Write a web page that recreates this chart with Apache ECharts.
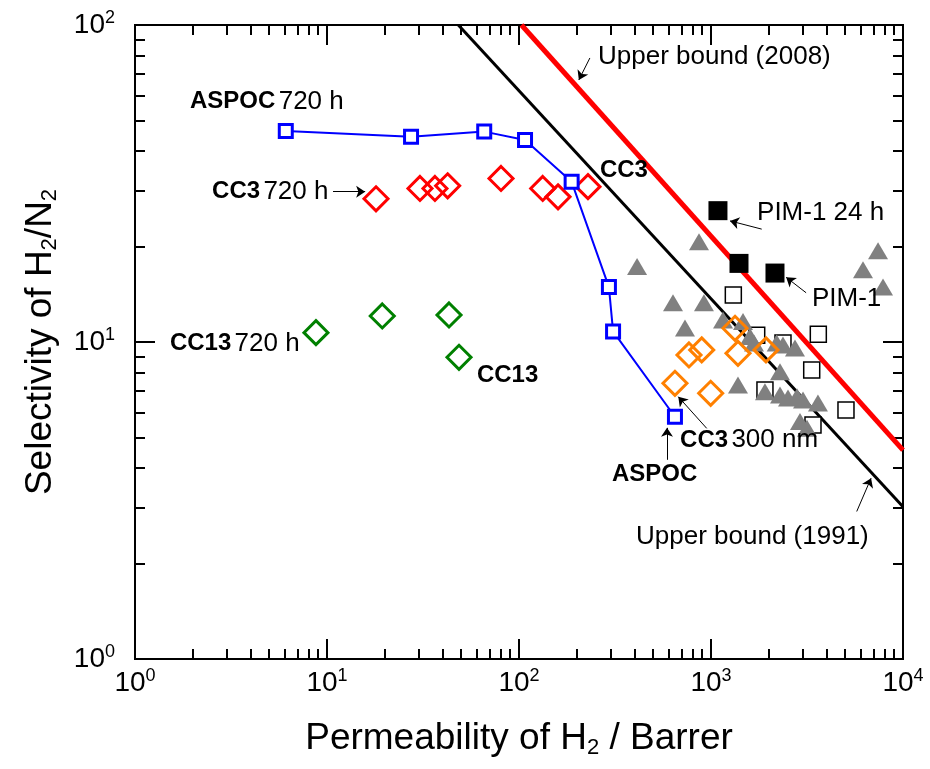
<!DOCTYPE html>
<html>
<head>
<meta charset="utf-8">
<script src="https://cdn.jsdelivr.net/npm/echarts@6/dist/echarts.min.js"></script>
<style>
  html, body { margin: 0; background: #fff; }
  #main { width: 930px; height: 769px; }
</style>
</head>
<body>
<div id="main"></div>
<script>
  // [H2 permeability (Barrer), H2/N2 selectivity]
  var aspoc720 = [[6.1, 46.3], [27.4, 44.4], [65.9, 46.1], [107.5, 43.4], [188, 32.0], [294, 14.9], [309, 10.8], [649, 5.81]];
  var cc3720 = [[18.0, 28.3], [30.5, 30.5], [36.5, 30.5], [42.5, 31.1], [80.6, 32.8], [132.9, 30.5], [159.7, 28.7], [228.7, 30.9]];
  var cc13 = [[8.76, 10.7], [19.4, 12.08], [43.2, 12.17], [48.7, 8.95]];
  var cc3Film = [[1334, 11.05], [894.6, 9.44], [768, 9.10], [1382, 9.21], [1934, 9.44], [649, 7.41], [996, 6.89]];
  var pim1 = [[1087, 25.96], [1399, 17.7], [2154, 16.5]];
  var othersOpen = [[1307, 14.07], [3622, 10.58], [3346, 8.16], [1910, 7.06], [5047, 6.10], [3398, 5.47], [1730, 10.5], [2371, 9.93]];
  var othersTri = [[866, 20.7], [412, 17.3], [7413, 19.4], [6190, 16.9], [7870, 14.9], [634, 13.3], [919, 13.3], [732, 11.07],
    [1155, 11.73], [1468, 11.6], [1596, 10.4], [1675, 9.93], [2198, 9.93], [2371, 9.78], [2738, 9.57], [1382, 7.32],
    [2288, 8.06], [1910, 6.97], [2288, 6.80], [2518, 6.66], [2805, 6.72], [3015, 6.56], [3606, 6.42], [2907, 5.61], [3162, 5.34]];
  var bound1991 = [[48.3, 100], [10000, 3.02]];
  var bound2008 = [[103, 100], [10000, 4.56]];

  // tick values
  var xMajor = [1, 10, 100, 1000, 10000];
  var yMajor = [1, 10, 100];
  var xMinor = [2, 3, 4, 5, 6, 7, 8, 9, 20, 30, 40, 50, 60, 70, 80, 90, 200, 300, 400, 500, 600, 700, 800, 900,
    2000, 3000, 4000, 5000, 6000, 7000, 8000, 9000];
  var yMinor = [2, 3, 4, 5, 6, 7, 8, 9, 20, 30, 40, 50, 60, 70, 80, 90];

  // annotations
  var noteText = ['{bd|ASPOC} {rg|720 h}', '{bd|CC3} {rg|720 h}', '{bd|CC13} {rg|720 h}', '{bd|CC13}', '{bd|CC3}',
    '{rg|Upper bound (2008)}', '{rg|PIM-1 24 h}', '{rg|PIM-1}', '{bd|CC3} {rg|300 nm}', '{bd|ASPOC}', '{rg|Upper bound (1991)}'];
  var noteAt = [[1.934, 57.3], [2.52, 29.8], [1.52, 9.9], [60.4, 7.87], [264, 34.9],
    [258, 79.4], [1737, 25.5], [3357, 13.7], [690, 4.91], [305, 3.81], [407, 2.43]];
  var arrowFrom = [[234, 78.7], [10.75, 29.8], [1837, 22.7], [3129, 14.3], [950, 5.34], [590, 4.25], [5741, 2.92]];
  var arrowTo = [[205, 67.1], [15.8, 29.8], [1256, 24.1], [2463, 16.0], [675.5, 6.72], [590, 5.36], [6820, 3.72]];

  var FONT = 'Liberation Sans';

  function powLabel(v) {
    return '{b|10}{s|' + Math.round(Math.log10(v)) + '}';
  }

  function logAxis(pos, min, max, ticks, len, labels) {
    return {
      type: 'log',
      logBase: 10,
      position: pos,
      min: min,
      max: max,
      axisLine: { show: true, onZero: false, lineStyle: { color: '#000', width: 2 } },
      axisTick: { show: true, inside: true, length: len, customValues: ticks, lineStyle: { color: '#000', width: 2 } },
      axisLabel: labels ? {
        show: true,
        customValues: ticks,
        margin: (pos === 'left') ? 20 : 8,
        formatter: powLabel,
        rich: {
          b: { fontFamily: FONT, fontSize: 28, color: '#000', lineHeight: 32 },
          s: { fontFamily: FONT, fontSize: 18, color: '#000', lineHeight: 18, verticalAlign: 'top' }
        }
      } : { show: false },
      splitLine: { show: false },
      minorTick: { show: false },
      minorSplitLine: { show: false }
    };
  }

  var xAxes = [
    logAxis('bottom', 1, 10000, xMajor, 20, true),
    logAxis('bottom', 1, 10000, xMinor, 10, false),
    logAxis('top', 1, 10000, xMajor, 20, false),
    logAxis('top', 1, 10000, xMinor, 10, false)
  ];
  xAxes[0].name = 'Permeability of H{sub|2} / Barrer';
  xAxes[0].nameLocation = 'middle';
  xAxes[0].nameGap = 60;
  xAxes[0].nameTextStyle = {
    fontFamily: FONT, fontSize: 37, color: '#000', lineHeight: 40,
    rich: { sub: { fontFamily: FONT, fontSize: 22, color: '#000', lineHeight: 22, verticalAlign: 'bottom' } }
  };

  var yAxes = [
    logAxis('left', 1, 100, yMajor, 20, true),
    logAxis('left', 1, 100, yMinor, 10, false),
    logAxis('right', 1, 100, yMajor, 20, false),
    logAxis('right', 1, 100, yMinor, 10, false)
  ];
  yAxes[0].name = 'Selectivity of H{sub|2}/N{sub|2}';
  yAxes[0].nameLocation = 'middle';
  yAxes[0].nameGap = 74;
  yAxes[0].nameTextStyle = xAxes[0].nameTextStyle;

  var myChart = echarts.init(document.getElementById('main'));
  myChart.setOption({
    animation: false,
    backgroundColor: '#fff',
    grid: { left: 135, top: 25, width: 768, height: 634 },
    xAxis: xAxes,
    yAxis: yAxes,
    series: [
      {
        name: 'Upper bound (1991)', type: 'line', data: bound1991, symbol: 'none',
        lineStyle: { color: '#000', width: 3 }, silent: true, z: 1
      },
      {
        name: 'Upper bound (2008)', type: 'line', data: bound2008, symbol: 'none',
        lineStyle: { color: '#ff0000', width: 5 }, silent: true, z: 1
      },
      {
        name: 'others open', type: 'scatter', data: othersOpen, symbol: 'rect', symbolSize: 16,
        itemStyle: { color: '#fff', borderColor: '#000', borderWidth: 1.5, opacity: 1 }, z: 2
      },
      {
        name: 'others', type: 'scatter', data: othersTri, symbol: 'triangle', symbolSize: [20, 17],
        itemStyle: { color: '#808080', opacity: 1 }, z: 3
      },
      {
        name: 'PIM-1', type: 'scatter', data: pim1, symbol: 'rect', symbolSize: 19,
        itemStyle: { color: '#000', opacity: 1 }, z: 4
      },
      {
        name: 'CC3 300 nm', type: 'scatter', data: cc3Film, symbol: 'diamond', symbolSize: 24,
        itemStyle: { color: 'rgba(255,255,255,0)', borderColor: '#ff8000', borderWidth: 3, opacity: 1 }, z: 5
      },
      {
        name: 'CC13', type: 'scatter', data: cc13, symbol: 'diamond', symbolSize: 24,
        itemStyle: { color: 'rgba(255,255,255,0)', borderColor: '#008000', borderWidth: 3, opacity: 1 }, z: 5
      },
      {
        name: 'CC3 720 h', type: 'scatter', data: cc3720, symbol: 'diamond', symbolSize: 24,
        itemStyle: { color: 'rgba(255,255,255,0)', borderColor: '#ff0000', borderWidth: 3, opacity: 1 }, z: 5
      },
      {
        name: 'ASPOC 720 h', type: 'line', data: aspoc720, symbol: 'rect', symbolSize: 13, showAllSymbol: true,
        lineStyle: { color: '#0000ff', width: 2 },
        itemStyle: { color: '#fff', borderColor: '#0000ff', borderWidth: 3, opacity: 1 }, z: 6
      },
      {
        name: 'notes', type: 'scatter', silent: true, symbolSize: 0, z: 7,
        data: noteAt,
        itemStyle: { opacity: 1 },
        label: {
          show: true,
          position: 'right',
          distance: 0,
          color: '#000',
          textBorderWidth: 0,
          formatter: function (p) { return noteText[p.dataIndex]; },
          rich: {
            bd: { fontFamily: FONT, fontSize: 24, fontWeight: 'bold', color: '#000' },
            rg: { fontFamily: FONT, fontSize: 26, color: '#000' }
          }
        },
        markLine: {
          silent: true,
          symbol: ['none', 'arrow'],
          symbolSize: 9,
          label: { show: false },
          lineStyle: { color: '#000', width: 1, type: 'solid', opacity: 1 },
          data: arrowFrom.map(function (f, i) {
            return [{ coord: f }, { coord: arrowTo[i] }];
          })
        }
      }
    ]
  });
</script>
</body>
</html>
